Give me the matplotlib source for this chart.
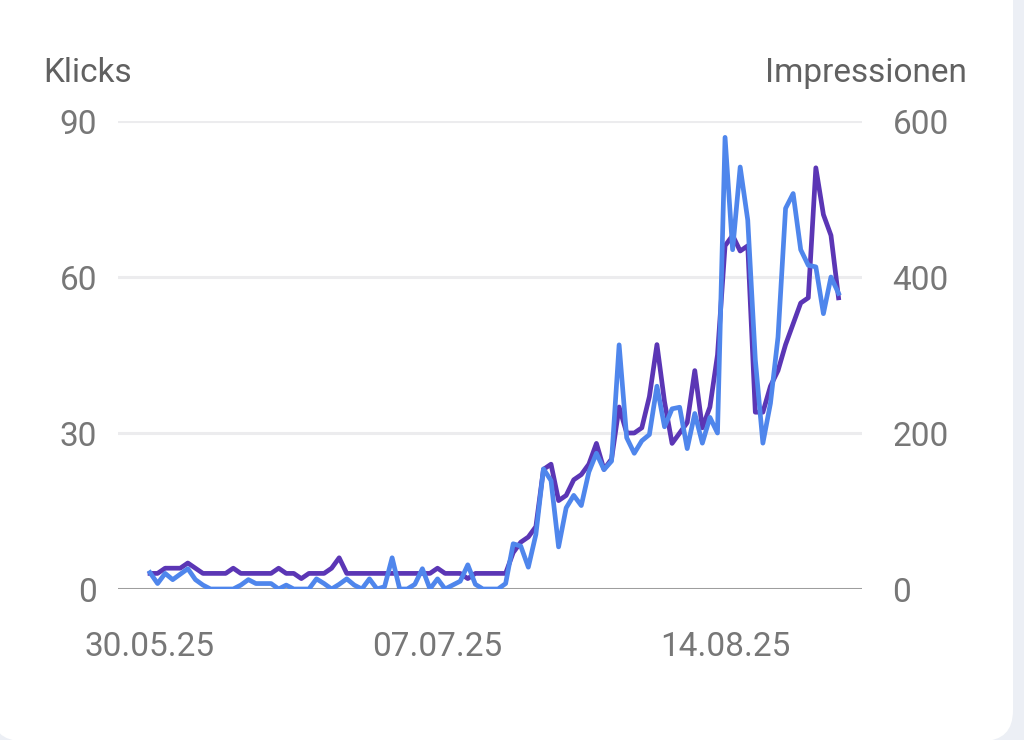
import matplotlib
matplotlib.use("Agg")
import matplotlib.pyplot as plt
from matplotlib.patches import FancyBboxPatch
import pandas as pd

start_date = "2025-05-30"
klicks = [3, 3, 4, 4, 4, 5, 4, 3, 3, 3, 3, 4, 3, 3, 3, 3, 3, 4, 3, 3,
          2, 3, 3, 3, 4, 6, 3, 3, 3, 3, 3, 3, 3, 3, 3, 3, 3, 3, 4, 3,
          3, 3, 2, 3, 3, 3, 3, 3, 7, 9, 10, 12, 23, 24, 17, 18, 21, 22, 24, 28,
          23, 25, 35, 30, 30, 31, 37, 47, 36, 28, 30, 32, 42, 31, 35, 45, 66, 68, 65, 66,
          34, 34, 39, 42, 47, 51, 55, 56, 81, 72, 68, 56]
impressionen = [21, 7, 20, 12, 19, 26, 12, 5, 0, 0, 0, 0, 5, 12, 7, 7, 7, 0, 5, 0,
                0, 0, 13, 7, 0, 6, 13, 5, 0, 13, 0, 3, 40, 0, 0, 6, 26, 0, 13, 0,
                5, 10, 31, 6, 0, 0, 0, 7, 58, 55, 28, 70, 154, 139, 54, 104, 120, 107, 150, 174,
                153, 164, 313, 194, 174, 190, 198, 260, 208, 231, 233, 180, 225, 187, 220, 200, 579, 435, 541, 473,
                294, 187, 238, 323, 488, 507, 435, 415, 413, 353, 400, 379]
tick_dates = ["2025-05-30", "2025-07-07", "2025-08-14"]
tick_labels = ["30.05.25", "07.07.25", "14.08.25"]
left_ticks = [0, 30, 60, 90]
right_ticks = [0, 200, 400, 600]

dates = pd.date_range(start_date, periods=len(klicks), freq="D")

plt.rcParams['font.family'] = ['Roboto', 'DejaVu Sans']

fig = plt.figure(figsize=(10.24, 7.4), dpi=100)
fig.patch.set_facecolor('#eceff5')
card = FancyBboxPatch((-8 / 1024, -1 / 740), 1021 / 1024, 780 / 740,
                      boxstyle="round,pad=0,rounding_size=0.03",
                      transform=fig.transFigure, facecolor='white',
                      edgecolor='none', zorder=-5, mutation_aspect=1024 / 740)
fig.patches.append(card)

ax = fig.add_axes([118 / 1024, 1 - 589 / 740, 744 / 1024, 468 / 740])
ax.set_facecolor('none')
ax2 = ax.twinx()
ax2.set_facecolor('none')

purple = '#5b36b5'
blue = '#4f86ec'
ax.plot(dates, klicks, color=purple, lw=3.4, solid_joinstyle='round', zorder=3)
ax2.plot(dates, impressionen, color=blue, lw=3.4, solid_joinstyle='round', zorder=4)

d0 = pd.Timestamp(start_date)
ax.set_xlim(d0 - pd.Timedelta(days=4.23), d0 + pd.Timedelta(days=94.1))
ax.set_ylim(0, 90)
ax2.set_ylim(0, 600)

ax.set_yticks(left_ticks)
ax2.set_yticks(right_ticks)
for y in left_ticks[1:]:
    ax.axhline(y, color='#ececee', lw=2.2, zorder=1)
ax.axhline(0, color='#9e9e9e', lw=2.2, zorder=2)

ax.set_xticks(pd.to_datetime(tick_dates))
ax.set_xticklabels(tick_labels)

tick_color = '#777777'
fs = 24
ax.tick_params(axis='y', length=0, pad=15, labelsize=fs, labelcolor=tick_color)
ax2.tick_params(axis='y', length=0, pad=22, labelsize=fs, labelcolor=tick_color)
ax.tick_params(axis='x', length=0, pad=30, labelsize=fs, labelcolor=tick_color)

for a in (ax, ax2):
    for s in a.spines.values():
        s.set_visible(False)

fig.text(43 / 1024, 1 - 73 / 740, "Klicks", ha='left', va='center',
         fontsize=fs, color='#616161')
fig.text(967 / 1024, 1 - 73 / 740, "Impressionen", ha='right', va='center',
         fontsize=fs, color='#616161')

fig.savefig("out.png", dpi=100)
